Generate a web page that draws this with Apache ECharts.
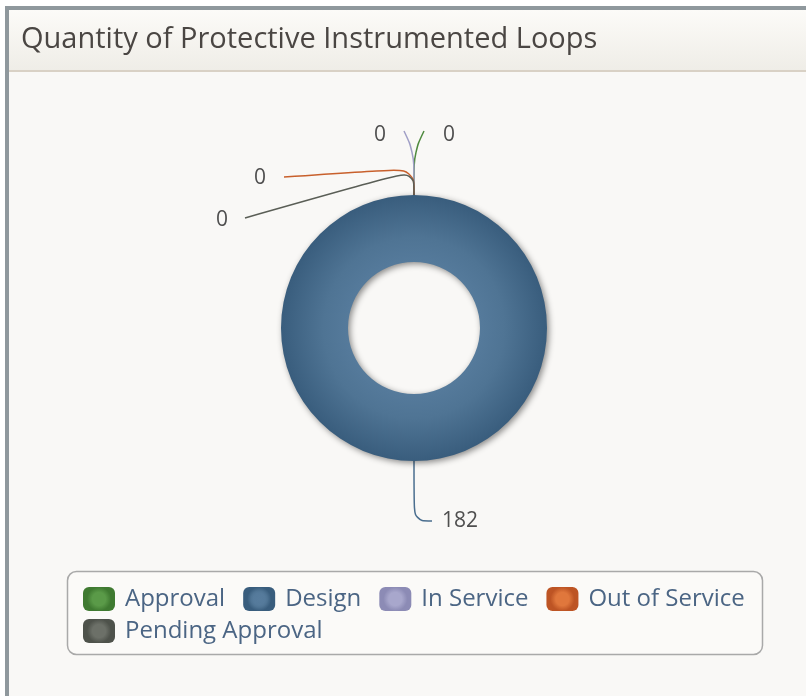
<!DOCTYPE html>
<html>
<head>
<meta charset="utf-8">
<title>Quantity of Protective Instrumented Loops</title>
<script src="https://cdn.jsdelivr.net/npm/echarts@6/dist/echarts.min.js"></script>
<style>
  html, body { margin: 0; padding: 0; background: #fff; }
  #chart { width: 806px; height: 696px; }
</style>
</head>
<body>
<div id="chart"></div>
<script>
// 数据
var categories = ['Approval', 'Design', 'In Service', 'Out of Service', 'Pending Approval']
var loopCounts = [0, 182, 0, 0, 0]

// 颜色（带一点径向渐变）
function radial (light, dark) {
  return new echarts.graphic.RadialGradient(0.5, 0.5, 0.5, [
    { offset: 0, color: light },
    { offset: 0.55, color: light },
    { offset: 1, color: dark }
  ])
}
var sliceColors = [
  radial('#5a9a48', '#3f7a31'),
  new echarts.graphic.RadialGradient(0.5, 0.5, 0.5, [
    { offset: 0, color: '#577c9d' },
    { offset: 0.5, color: '#557a9b' },
    { offset: 0.68, color: '#4f7494' },
    { offset: 1, color: '#395d7d' }
  ]),
  radial('#a8a7cc', '#8c8bb5'),
  radial('#e0773c', '#bd5424'),
  radial('#6c7068', '#4e524b')
]
var lineColors = ['#4f8a3f', '#4a6e8f', '#a09fc6', '#c8602c', '#5a5e56']

// 零值标签的摆放（标签中心 + 引导线折点），按数据顺序
var zeroLabelSpots = {
  0: { label: [449, 135], line: [[414, 195], [414, 152], [424, 131]] },
  2: { label: [380, 135], line: [[414, 195], [414, 152], [404, 131]] },
  3: { label: [260, 178], line: [[414, 195], [414, 168], [284, 177]] },
  4: { label: [222, 220], line: [[414, 195], [414, 170], [245, 218]] }
}

var mycharts = echarts.init(document.getElementById('chart'))

mycharts.setOption({
  animation: false,
  // 面板外框、标题栏、图例框
  graphic: [
    { type: 'rect', shape: { x: 5, y: 6, width: 801, height: 690 }, style: { fill: '#8f989d' }, silent: true, z: -10 },
    { type: 'rect', shape: { x: 9, y: 10, width: 797, height: 686 }, style: { fill: '#f9f8f6' }, silent: true, z: -9 },
    {
      type: 'rect',
      shape: { x: 9, y: 10, width: 797, height: 60 },
      style: {
        fill: new echarts.graphic.LinearGradient(0, 0, 0, 1, [
          { offset: 0, color: '#fcfbf8' },
          { offset: 1, color: '#efede7' }
        ])
      },
      silent: true,
      z: -8
    },
    { type: 'rect', shape: { x: 9, y: 70, width: 797, height: 2 }, style: { fill: '#d9d1c5' }, silent: true, z: -8 },
    {
      type: 'rect',
      shape: { x: 67.5, y: 571.5, width: 695, height: 83, r: 9 },
      style: { fill: '#fbfaf8', stroke: '#a9a9a9', lineWidth: 1.5 },
      silent: true,
      z: -7
    }
  ],
  title: {
    text: 'Quantity of Protective Instrumented Loops',
    left: 21,
    top: 25,
    padding: 0,
    textStyle: {
      fontFamily: 'Open Sans',
      fontWeight: 'normal',
      fontSize: 29,
      color: '#4a4643'
    }
  },
  legend: {
    data: categories,
    left: 67,
    right: 43,
    top: 573,
    padding: [14, 14, 14, 16],
    itemWidth: 32,
    itemHeight: 24,
    itemGap: 8,
    icon: 'roundRect',
    textStyle: {
      fontFamily: 'Open Sans',
      fontSize: 24,
      lineHeight: 24,
      color: '#4b6584',
      padding: [0, 10, 0, 5]
    }
  },
  series: [
    {
      name: 'Loops',
      type: 'pie',
      center: [414, 328],
      radius: [66, 133],
      startAngle: 90,
      clockwise: true,
      avoidLabelOverlap: false,
      data: categories.map(function (name, i) {
        return {
          name: name,
          value: loopCounts[i],
          itemStyle: { color: sliceColors[i] },
          labelLine: { lineStyle: { color: lineColors[i] } }
        }
      }),
      itemStyle: {
        shadowBlur: 6,
        shadowColor: 'rgba(0, 0, 0, 0.45)',
        shadowOffsetX: 2,
        shadowOffsetY: 2
      },
      label: {
        show: true,
        position: 'outside',
        formatter: '{c}',
        fontFamily: 'Open Sans',
        fontSize: 21,
        color: '#4f4f4f',
        distanceToLabelLine: 10
      },
      labelLine: {
        show: true,
        length: 60,
        length2: 18,
        smooth: 0.4,
        lineStyle: { width: 1.5 }
      },
      labelLayout: function (params) {
        var spot = zeroLabelSpots[params.dataIndex]
        if (!spot) return {}
        return {
          x: spot.label[0],
          y: spot.label[1],
          align: 'center',
          verticalAlign: 'middle',
          labelLinePoints: spot.line
        }
      },
      emphasis: { scale: false }
    }
  ]
})
</script>
</body>
</html>
